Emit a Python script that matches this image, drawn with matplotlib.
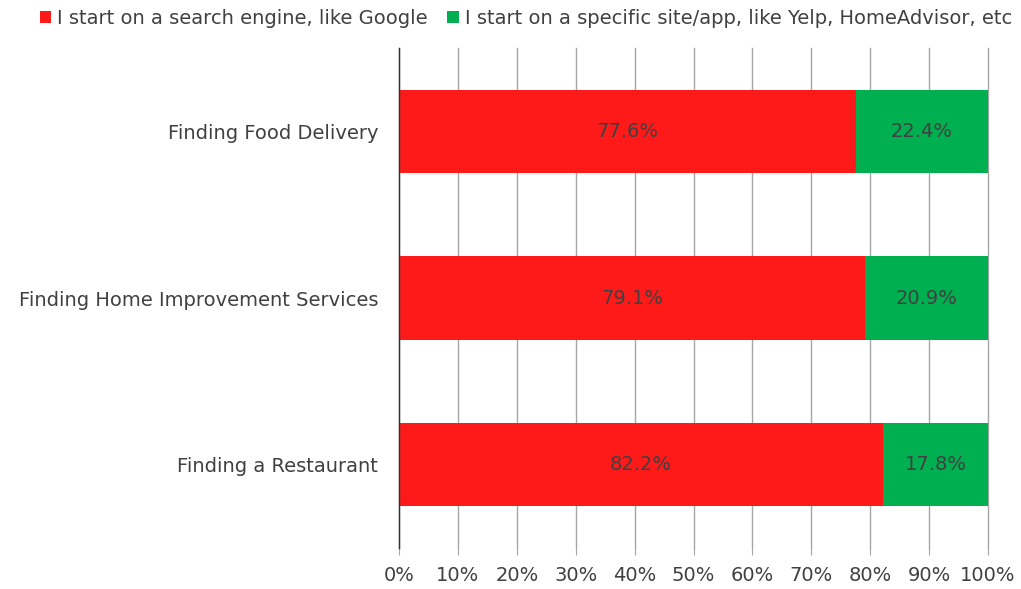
import matplotlib.pyplot as plt
from matplotlib.ticker import FuncFormatter, MultipleLocator

categories = ["Finding Food Delivery", "Finding Home Improvement Services", "Finding a Restaurant"]
search_engine = [77.6, 79.1, 82.2]
specific_site = [22.4, 20.9, 17.8]
series_names = ["I start on a search engine, like Google",
                "I start on a specific site/app, like Yelp, HomeAdvisor, etc"]

red = "#FF1A1A"
green = "#00B050"
text_col = "#404040"

plt.rcParams['font.family'] = ['DejaVu Sans']

fig = plt.figure(figsize=(10.21, 5.89), dpi=100)
ax = fig.add_axes([399 / 1021, 1 - 548 / 589, 589 / 1021, 500 / 589])

pos = list(range(len(categories)))
b1 = ax.barh(pos, search_engine, height=0.5, color=red, label=series_names[0], zorder=3)
b2 = ax.barh(pos, specific_site, left=search_engine, height=0.5, color=green,
             label=series_names[1], zorder=3)

for bars, vals in ((b1, search_engine), (b2, specific_site)):
    ax.bar_label(bars, labels=[f"{v:.1f}%" for v in vals], label_type="center",
                 color=text_col, fontsize=14)

ax.set_xlim(0, 100)
ax.set_ylim(2.5, -0.5)
ax.set_yticks(pos)
ax.set_yticklabels(categories)
ax.xaxis.set_major_locator(MultipleLocator(10))
ax.xaxis.set_major_formatter(FuncFormatter(lambda v, p: f"{v:.0f}%"))
ax.grid(axis="x", color="#A6A6A6", linewidth=1, zorder=0)
for gl in ax.get_xgridlines():
    gl.set_clip_on(False)

for s in ("top", "right", "bottom"):
    ax.spines[s].set_visible(False)
ax.spines["left"].set_color("#333333")
ax.spines["left"].set_linewidth(1)
ax.spines["left"].set_zorder(4)

ax.tick_params(axis="x", length=5, color="#A6A6A6", labelsize=14, labelcolor=text_col, pad=8)
ax.tick_params(axis="y", length=0, labelsize=14, labelcolor=text_col, pad=15)

fig.legend(handles=[b1, b2], labels=series_names, loc="upper center",
           bbox_to_anchor=(0.515, 1.015), ncol=2, frameon=False, fontsize=14,
           labelcolor=text_col, handlelength=0.6, handleheight=0.6,
           handletextpad=0.3, columnspacing=1.0)

fig.savefig("out.png", dpi=100)
